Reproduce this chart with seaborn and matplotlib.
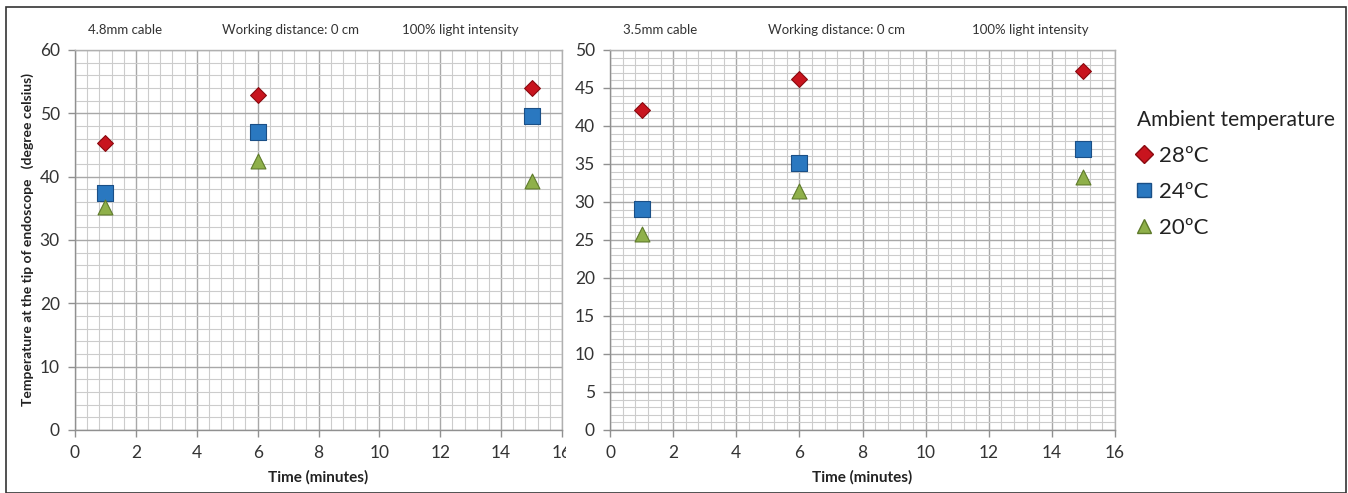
import matplotlib
matplotlib.use("Agg")
import matplotlib.pyplot as plt
from matplotlib.lines import Line2D
from matplotlib.ticker import MultipleLocator
from matplotlib.transforms import Bbox, TransformedBbox
import seaborn as sns
import pandas as pd

# ---- data ----
time_min = [1, 6, 15]
ambient_labels = ["28ºC", "24ºC", "20ºC"]
cable_titles = ["4.8mm cable", "3.5mm cable"]

temp_48_28 = [45.3, 52.9, 54.0]
temp_48_24 = [37.4, 47.1, 49.6]
temp_48_20 = [35.2, 42.5, 39.3]

temp_35_28 = [42.1, 46.2, 47.2]
temp_35_24 = [29.1, 35.1, 37.0]
temp_35_20 = [25.8, 31.4, 33.3]

def make_df(s28, s24, s20):
    rows = []
    for lab, vals in zip(ambient_labels, [s28, s24, s20]):
        for t, v in zip(time_min, vals):
            rows.append({"time": t, "temp": v, "ambient": lab})
    return pd.DataFrame(rows)

df48 = make_df(temp_48_28, temp_48_24, temp_48_20)
df35 = make_df(temp_35_28, temp_35_24, temp_35_20)

sns.set_theme(style="white")
plt.rcParams['font.family'] = ['Lato', 'DejaVu Sans']

colors = {"28ºC": "#C8141E", "24ºC": "#2A78C0", "20ºC": "#8FB04A"}
edges = {"28ºC": "#8A0A10", "24ºC": "#1A4F86", "20ºC": "#5E7A2A"}
markers = {"28ºC": "D", "24ºC": "s", "20ºC": "^"}
sizes = {"28ºC": 65, "24ºC": 120, "20ºC": 115}

fig = plt.figure(figsize=(13.48, 4.93), dpi=100)
ax1 = fig.add_axes([75/1348, 1-430/493, 487/1348, 380/493])
ax2 = fig.add_axes([610/1348, 1-430/493, 505/1348, 380/493])

def draw(ax, df, ymax, ymaj, ymin):
    for lab in ambient_labels:
        sub = df[df["ambient"] == lab]
        sns.scatterplot(data=sub, x="time", y="temp", ax=ax, marker=markers[lab],
                        color=colors[lab], edgecolor=edges[lab], linewidth=0.8,
                        s=sizes[lab], legend=False, zorder=5)
    ax.set_xlim(0, 16)
    ax.set_ylim(0, ymax)
    ax.xaxis.set_major_locator(MultipleLocator(2))
    ax.xaxis.set_minor_locator(MultipleLocator(0.4))
    ax.yaxis.set_major_locator(MultipleLocator(ymaj))
    ax.yaxis.set_minor_locator(MultipleLocator(ymin))
    ax.grid(which="major", color="#A8A8A8", linewidth=1.0)
    ax.grid(which="minor", color="#CCCCCC", linewidth=0.8)
    ax.set_axisbelow(True)
    for sp in ax.spines.values():
        sp.set_color("#B0B0B0")
        sp.set_linewidth(1.0)
    ax.spines["left"].set_color("#909090")
    ax.spines["bottom"].set_color("#909090")
    ax.tick_params(axis="both", which="major", labelsize=12.5, colors="#333333",
                   length=5, width=1, color="#909090", direction="out",
                   left=True, bottom=True, pad=6)
    ax.tick_params(which="minor", length=0)
    ax.set_xlabel("Time (minutes)", fontsize=11, fontweight="bold", color="#222222", labelpad=6)

draw(ax1, df48, 60, 10, 2)
draw(ax2, df35, 50, 5, 1)
ax2.set_ylabel("")
ax1.set_ylabel("Temperature at the tip of endoscope   (degree celsius)", fontsize=10,
               fontweight="bold", color="#222222", labelpad=4)

# clip the left panel's last x tick label, as in the reference
fig.canvas.draw()
clipbox = TransformedBbox(Bbox([[0, 0], [566/1348, 1]]), fig.transFigure)
for lbl in ax1.get_xticklabels():
    lbl.set_clip_box(clipbox)
    lbl.set_clip_on(True)

# header texts
hdr_y = 1 - 30/493
for x, s in [(125, "4.8mm cable"), (290, "Working distance: 0 cm"), (460, "100% light intensity"),
             (660, "3.5mm cable"), (837, "Working distance: 0 cm"), (1030, "100% light intensity")]:
    fig.text(x/1348, hdr_y, s, ha="center", va="center", fontsize=9.5, color="#333333")

# legend
handles = [Line2D([], [], linestyle="none", marker=markers[l], markersize=10 if l != "28ºC" else 9,
                  markerfacecolor=colors[l], markeredgecolor=edges[l]) for l in ambient_labels]
leg = fig.legend(handles, ambient_labels, title="Ambient temperature", loc="upper left",
                 bbox_to_anchor=(1128/1348, 1-101/493), frameon=False, fontsize=16,
                 title_fontsize=15, handlelength=0.6, handletextpad=0.4, labelspacing=0.72,
                 alignment="left", borderaxespad=0)
for t in leg.get_texts():
    t.set_color("#222222")
leg.get_title().set_color("#222222")

# outer frame
fig.patches.append(plt.Rectangle((6/1348, 0.5/493), 1340/1348, 486/493, transform=fig.transFigure,
                                 fill=False, edgecolor="#333333", linewidth=1.2))

fig.savefig("out.png", dpi=100)
